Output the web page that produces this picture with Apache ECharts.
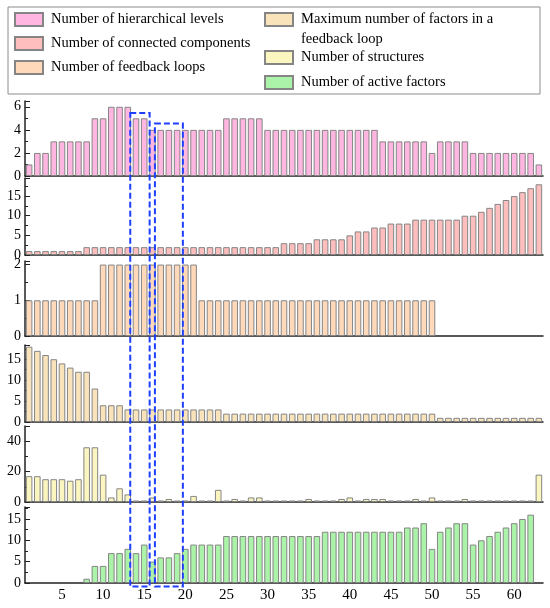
<!DOCTYPE html>
<html>
<head>
<meta charset="utf-8">
<title>structure indicators</title>
<script src="https://cdn.jsdelivr.net/npm/echarts@6/dist/echarts.min.js"></script>
<style>
  html, body { margin: 0; padding: 0; background: #fff; }
  #main { width: 550px; height: 608px; }
</style>
</head>
<body>
<div id="main"></div>
<script>
// 横轴：第 1..63 步
var steps = [];
for (var s = 1; s <= 63; s++) steps.push(String(s));

// 各面板数据
var levels = [1, 2, 2, 3, 3, 3, 3, 3, 5, 5, 6, 6, 6, 5, 5, 4, 4, 4, 4, 4,
    4, 4, 4, 4, 5, 5, 5, 5, 5, 4, 4, 4, 4, 4, 4, 4, 4, 4, 4, 4,
    4, 4, 4, 3, 3, 3, 3, 3, 3, 2, 3, 3, 3, 3, 2, 2, 2, 2, 2, 2,
    2, 2, 1];
var components = [1, 1, 1, 1, 1, 1, 1, 2, 2, 2, 2, 2, 2, 2, 2, 2, 2, 2, 2, 2,
    2, 2, 2, 2, 2, 2, 2, 2, 2, 2, 2, 3, 3, 3, 3, 4, 4, 4, 4, 5,
    6, 6, 7, 7, 8, 8, 8, 9, 9, 9, 9, 9, 9, 10, 10, 11, 12, 13, 14, 15,
    16, 17, 18];
var loops = [1, 1, 1, 1, 1, 1, 1, 1, 1, 2, 2, 2, 2, 2, 2, 2, 2, 2, 2, 2,
    2, 1, 1, 1, 1, 1, 1, 1, 1, 1, 1, 1, 1, 1, 1, 1, 1, 1, 1, 1,
    1, 1, 1, 1, 1, 1, 1, 1, 1, 1, 0, 0, 0, 0, 0, 0, 0, 0, 0, 0,
    0, 0, 0];
var maxFactors = [18, 17, 16, 15, 14, 13, 12, 12, 8, 4, 4, 4, 3, 3, 3, 3, 3, 3, 3, 3,
    3, 3, 3, 3, 2, 2, 2, 2, 2, 2, 2, 2, 2, 2, 2, 2, 2, 2, 2, 2,
    2, 2, 2, 2, 2, 2, 2, 2, 2, 2, 1, 1, 1, 1, 1, 1, 1, 1, 1, 1,
    1, 1, 1];
var structures = [17, 17, 15, 15, 15, 14, 15, 36, 36, 18, 3, 9, 5, 1, 1, 3, 1, 2, 1, 1,
    4, 1, 1, 8, 1, 2, 1, 3, 3, 1, 1, 1, 1, 1, 2, 1, 1, 1, 2, 3,
    1, 2, 2, 2, 1, 1, 1, 2, 1, 3, 1, 1, 1, 2, 1, 1, 1, 1, 1, 1,
    1, 1, 18];
var active = [0, 0, 0, 0, 0, 0, 0, 1, 4, 4, 7, 7, 8, 7, 9, 5, 6, 6, 7, 8,
    9, 9, 9, 9, 11, 11, 11, 11, 11, 11, 11, 11, 11, 11, 11, 11, 12, 12, 12, 12,
    12, 12, 12, 12, 12, 12, 13, 13, 14, 8, 12, 13, 14, 14, 9, 10, 11, 12, 13, 14,
    15, 16, 0];

var names = ['Number of hierarchical levels', 'Number of connected components',
    'Number of feedback loops', 'Maximum number of factors in a\nfeedback loop',
    'Number of structures', 'Number of active factors'];
var colors = ['#FFB6E1', '#FFBEBE', '#FFD9BA', '#F9E3BB', '#FBF6C0', '#ABF3A8'];
var dataList = [levels, components, loops, maxFactors, structures, active];

// 纵轴：最大值 / 间隔
var yMax = [6.5, 19.6, 2.1, 18.4, 50, 17.8];
var yStep = [2, 5, 1, 5, 20, 5];

// 面板位置（上沿, 下沿）
var panels = [[101, 176], [178, 255], [261, 336], [345, 422], [426, 502], [507, 583]];

var font = "'Liberation Serif', 'Times New Roman', serif";

var grids = [], xAxes = [], yAxes = [], series = [];
panels.forEach(function (p, i) {
    grids.push({left: 25, right: 7, top: p[0], height: p[1] - p[0]});
    xAxes.push({
        type: 'category', gridIndex: i, data: steps,
        axisLine: {lineStyle: {color: '#222', width: 1.5}},
        axisTick: {show: false},
        axisLabel: {
            show: i === panels.length - 1,
            interval: function (idx, val) { return Number(val) % 5 === 0; },
            fontFamily: font, fontSize: 15, color: '#000', margin: 5
        }
    });
    yAxes.push({
        type: 'value', gridIndex: i, min: 0, max: yMax[i], interval: yStep[i],
        axisLine: {show: true, lineStyle: {color: '#222', width: 1.5}},
        axisTick: {show: true, inside: true, length: 5, lineStyle: {color: '#222'}},
        minorTick: {show: true, splitNumber: 2, length: 3, lineStyle: {color: '#222'}},
        splitLine: {show: false},
        axisLabel: {
            fontFamily: font, fontSize: 14, color: '#000', margin: 4,
            formatter: (function (step) {
                return function (v) { return (v % step === 0) ? String(v) : ''; };
            })(yStep[i])
        }
    });
    series.push({
        name: names[i], type: 'bar', xAxisIndex: i, yAxisIndex: i,
        // 0 值不画（避免零高度柱的边框压在轴线上）
        data: dataList[i].map(function (v) { return v === 0 ? '-' : v; }),
        barCategoryGap: '20%',
        itemStyle: {color: colors[i], borderColor: '#858585', borderWidth: 1},
        emphasis: {disabled: true},
        animation: false
    });
});

// 图例：每项单独定位
function legendItem(i, left, top, textExtra, fmt) {
    var ts = {fontFamily: font, fontSize: 14.5, color: '#000', lineHeight: 13, padding: [0, 0, 0, 3]};
    if (textExtra) for (var k in textExtra) ts[k] = textExtra[k];
    var lg = {
        data: [names[i]], left: left, top: top, orient: 'vertical', padding: 0,
        itemWidth: 28, itemHeight: 13, itemGap: 0, icon: 'rect',
        selectedMode: false, textStyle: ts
    };
    if (fmt) lg.formatter = fmt;
    return lg;
}

var legends = [
    legendItem(0, 14, 12),
    legendItem(1, 14, 36),
    legendItem(2, 14, 60),
    // 两行的图例：前面加一空行，让第一行与色块对齐
    legendItem(3, 264, -10.5, {lineHeight: 20}, function (name) { return '\n' + name; }),
    legendItem(4, 264, 50),
    legendItem(5, 264, 75)
];

var chart = echarts.init(document.getElementById('main'));
chart.setOption({
    animation: false,
    backgroundColor: '#fff',
    legend: legends,
    grid: grids,
    xAxis: xAxes,
    yAxis: yAxes,
    series: series
});

// 蓝色虚线框：按坐标轴换算位置
function xPix(v) {
    var i = Math.floor(v), f = v - i;
    var a = chart.convertToPixel({xAxisIndex: 0}, String(i));
    var b = chart.convertToPixel({xAxisIndex: 0}, String(i + 1));
    return a + (b - a) * f;
}
function boxFrom(x0, x1, topVal) {
    var x = xPix(x0), w = xPix(x1) - x;
    var y = chart.convertToPixel({yAxisIndex: 0}, topVal);
    var y2 = chart.convertToPixel({yAxisIndex: 5}, -0.8);
    return {
        type: 'rect', shape: {x: x, y: y, width: w, height: y2 - y}, z: 100, silent: true,
        style: {fill: 'none', stroke: '#1f3fff', lineWidth: 2, lineDash: [6, 3]}
    };
}
chart.setOption({
    graphic: [
        {
            type: 'rect', shape: {x: 8, y: 7, width: 532, height: 87},
            style: {fill: 'none', stroke: '#8c8c8c', lineWidth: 1}, silent: true
        },
        boxFrom(13.3, 15.66, 5.46),
        boxFrom(16.3, 19.7, 4.54)
    ]
});
</script>
</body>
</html>
